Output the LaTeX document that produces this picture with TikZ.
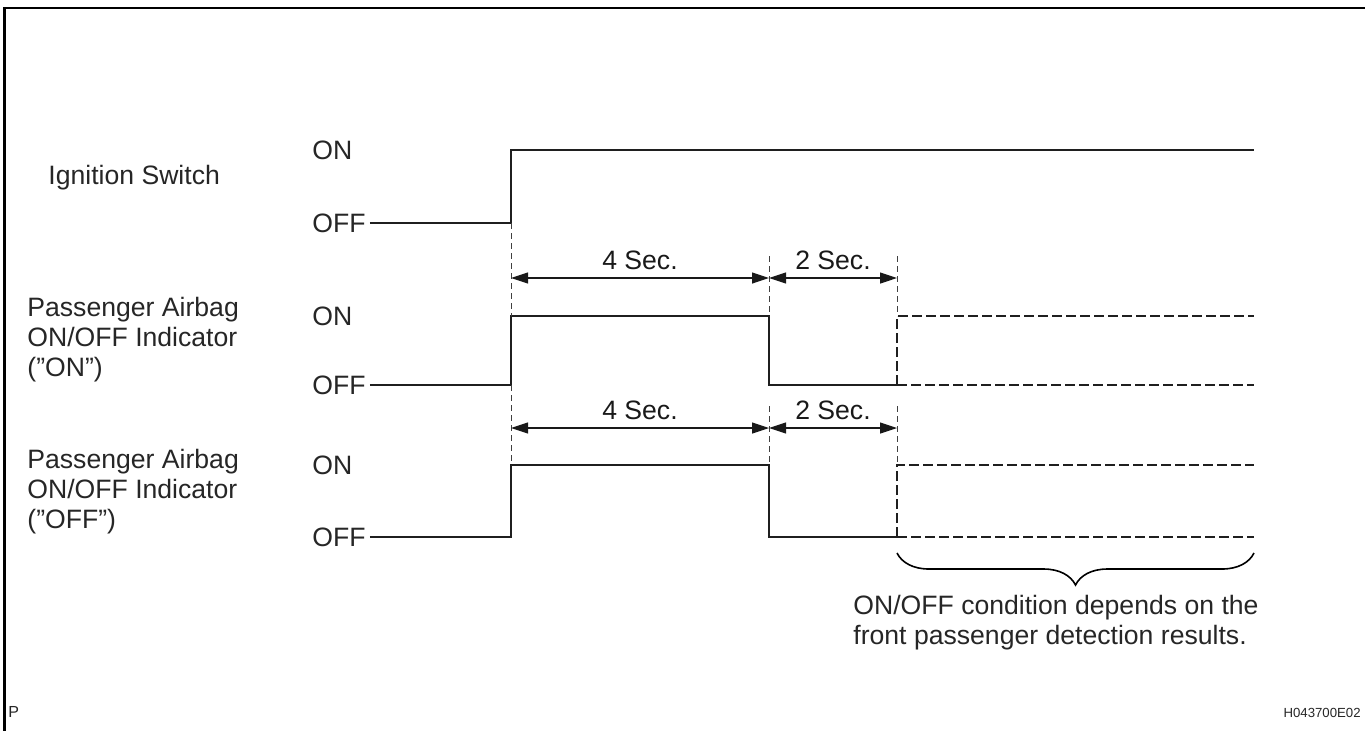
\documentclass[tikz,border=0pt]{standalone}
\usepackage{fontspec}
\setmainfont{Liberation Sans}
\usetikzlibrary{arrows.meta,positioning,calc,decorations.pathreplacing}

\begin{document}
\begin{tikzpicture}[
  x=0.5pt, y=-0.5pt,
  font=\fontsize{13.3}{15}\selectfont,
  sig/.style={line width=1.35pt, black!88},
  opt/.style={line width=1.35pt, black!88, dash pattern=on 5pt off 2pt},
  guide/.style={line width=0.3pt, black!75, dash pattern=on 3pt off 2pt},
  dim/.style={{Triangle[length=8.5pt,width=5.5pt]}-{Triangle[length=8.5pt,width=5.5pt]}, line width=0.55pt, black!90},
  lvl/.style={anchor=west, inner sep=2pt, text=black!85},
  lbl/.style={anchor=west, align=left, inner sep=0pt, text=black!85}
]
  \useasboundingbox (0,0) rectangle (1365,730);
  \draw[line width=1.4pt] (4.5,731) -- (4.5,8) -- (1366,8);

  % time marks and levels
  \coordinate (t0) at (511,0);
  \coordinate (t1) at (769,0);
  \coordinate (t2) at (897,0);
  \coordinate (tE) at (1254,0);
  \coordinate (dimA) at (0,278);
  \coordinate (dimB) at (0,428);
  \coordinate (gA) at (0,256);
  \coordinate (gB) at (0,406);
  \coordinate (br) at (0,553);

  % signal names
  \node[lbl] (ign) at (48,178) {Ignition Switch};
  \node[lbl] (indOn) at (27,340) {Passenger Airbag\\ON/OFF Indicator\\(''ON'')};
  \node[lbl] (indOff) at (27,492) {Passenger Airbag\\ON/OFF Indicator\\(''OFF'')};

  \node[lvl] (on1) at (308,150) {ON};
  \node[lvl] (off1) at (308,223) {OFF};
  \node[lvl] (on2) at (308,316) {ON};
  \node[lvl] (off2) at (308,385) {OFF};
  \node[lvl] (on3) at (308,465) {ON};
  \node[lvl] (off3) at (308,537) {OFF};

  % ignition switch
  \draw[sig] (off1.east) -- (t0 |- off1) -- (t0 |- on1) -- (tE |- on1);

  % indicator, two cases
  \draw[sig] (off2.east) -- (t0 |- off2) -- (t0 |- on2) -- (t1 |- on2) -- (t1 |- off2) -- (t2 |- off2);
  \draw[opt] (t2 |- off2) -- (t2 |- on2) -- (tE |- on2);
  \draw[opt] (t2 |- off2) -- (tE |- off2);

  \draw[sig] (off3.east) -- (t0 |- off3) -- (t0 |- on3) -- (t1 |- on3) -- (t1 |- off3) -- (t2 |- off3);
  \draw[opt] (t2 |- off3) -- (t2 |- on3) -- (tE |- on3);
  \draw[opt] (t2 |- off3) -- (tE |- off3);

  % guide lines
  \draw[guide] (t0 |- off1) -- (t0 |- on2);
  \draw[guide] (t1 |- gA) -- (t1 |- on2);
  \draw[guide] (t2 |- gA) -- (t2 |- on2);
  \draw[guide] (t0 |- off2) -- (t0 |- on3);
  \draw[guide] (t1 |- gB) -- (t1 |- on3);
  \draw[guide] (t2 |- gB) -- (t2 |- on3);

  % durations
  \draw[dim] (t0 |- dimA) -- node[above=4pt, inner sep=0pt] (secA) {4 Sec.} (t1 |- dimA);
  \draw[dim] (t1 |- dimA) -- node[above=4pt, inner sep=0pt] (secB) {2 Sec.} (t2 |- dimA);
  \draw[dim] (t0 |- dimB) -- node[above=4pt, inner sep=0pt] (secC) {4 Sec.} (t1 |- dimB);
  \draw[dim] (t1 |- dimB) -- node[above=4pt, inner sep=0pt] (secD) {2 Sec.} (t2 |- dimB);

  \draw[decorate, decoration={brace, mirror, amplitude=16pt}, line width=0.8pt] (t2 |- br) -- (tE |- br);
  \node[lbl, anchor=north west] (note) at (853,595)
    {ON/OFF condition depends on the\\front passenger detection results.};

  \node[lbl, font=\fontsize{8}{9}\selectfont] (pmark) at (8,712) {P};
  \node[lbl, anchor=east, font=\fontsize{6.6}{8}\selectfont] (code) at (1361,713) {H043700E02};
\end{tikzpicture}
\end{document}
